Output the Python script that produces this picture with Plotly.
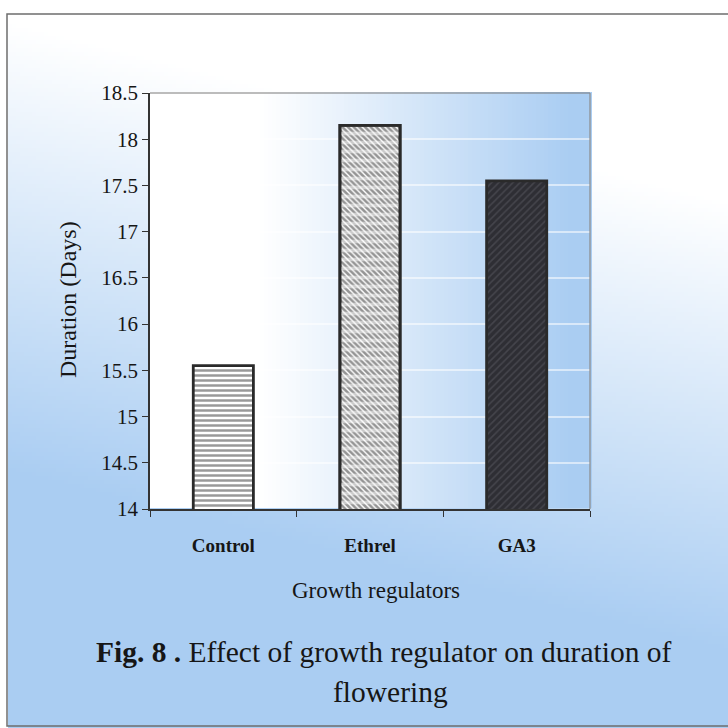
import numpy as np
import plotly.graph_objects as go

# ---- data -------------------------------------------------------------
treatments = ["Control", "Ethrel", "GA3"]
duration_days = [15.55, 18.15, 17.55]
y_tick_values = [14, 14.5, 15, 15.5, 16, 16.5, 17, 17.5, 18, 18.5]

x_title = "Growth regulators"
y_title = "Duration (Days)"
caption_line1 = "<b>Fig. 8 .</b> Effect of growth regulator on duration of"
caption_line2 = "flowering"

# ---- page geometry (pixels) ------------------------------------------
W = H = 728
PL, PR, PT, PB = 150, 590, 93, 509      # plot area box
FRAME_L, FRAME_T = 7, 14                # page frame corner

BLUE = "rgb(170,205,242)"
SERIF = "Liberation Serif"
INK = "#161616"

# ---- background wash: white -> pale blue ------------------------------
step = 4
xs = np.arange(step / 2, W, step)
ys = np.arange(step / 2, H, step)
X, Y = np.meshgrid(xs, ys)
page_t = np.clip((Y - 110) / 450 - (X - 364) / 1800, 0, 1)
plot_t = np.clip((X - 260) / 310, 0, 1)
inside_plot = (X >= PL) & (X <= PR) & (Y >= PT) & (Y <= PB)
wash = np.where(inside_plot, plot_t, page_t)
wash = np.where((X < FRAME_L) | (Y < FRAME_T), 0, wash)

fig = go.Figure()
fig.add_trace(go.Heatmap(
    x=xs, y=ys, z=wash, xaxis="x", yaxis="y",
    colorscale=[[0, "white"], [1, BLUE]], zmin=0, zmax=1,
    showscale=False, hoverinfo="skip",
))

# ---- bars -------------------------------------------------------------
fig.add_trace(go.Bar(
    x=treatments, y=duration_days, xaxis="x2", yaxis="y2",
    width=0.41,
    marker=dict(
        color="white",
        line=dict(color="#2a2a2a", width=2.8),
        pattern=dict(
            shape=["-", "\\", "/"],
            fgcolor=["#333333", "#2a2a2a", "#5c5c64"],
            bgcolor=["white", "white", "#2e2e34"],
            size=[5, 4, 5],
            solidity=[0.5, 0.65, 0.3],
        ),
    ),
    hoverinfo="x+y",
))
# white horizontal bands that break the Ethrel hatching into rows
fig.add_trace(go.Bar(
    x=treatments[1:2], y=duration_days[1:2], xaxis="x2", yaxis="y2",
    width=0.41,
    marker=dict(
        color="rgba(0,0,0,0)",
        line=dict(color="#2a2a2a", width=2.8),
        pattern=dict(shape="-", fgcolor="white", size=9, solidity=0.4),
    ),
    hoverinfo="skip",
))

# ---- shapes: page frame and plot box ---------------------------------
shapes = [
    dict(type="rect", xref="paper", yref="paper",
         x0=FRAME_L / W, x1=1.02, y0=1 - 726 / H, y1=1 - FRAME_T / H,
         line=dict(color="#6e6e6e", width=1.5), layer="above"),
    dict(type="line", xref="paper", yref="paper",
         x0=PL / W, x1=PR / W, y0=1 - PT / H, y1=1 - PT / H,
         line=dict(color="#7a7a7a", width=1.2), layer="above"),
    dict(type="line", xref="paper", yref="paper",
         x0=PR / W, x1=PR / W, y0=1 - PT / H, y1=1 - PB / H,
         line=dict(color="#8a8a8a", width=1.2), layer="above"),
]


def label(text, x, y, size, angle=0):
    return dict(text=text, xref="paper", yref="paper",
                x=x / W, y=1 - y / H, xanchor="center", yanchor="middle",
                textangle=angle, showarrow=False,
                font=dict(family=SERIF, size=size, color=INK))


annotations = [
    label(y_title, 68, 300, 24, angle=-90),
    label(x_title, 376, 590, 23),
    label(caption_line1, 384, 652, 29.5),
    label(caption_line2, 390, 692, 29.5),
]

fig.update_layout(
    width=W, height=H,
    autosize=False,
    margin=dict(l=0, r=0, t=0, b=0, pad=0, autoexpand=False),
    paper_bgcolor="white",
    plot_bgcolor="rgba(0,0,0,0)",
    showlegend=False,
    barmode="overlay",
    shapes=shapes,
    annotations=annotations,
    xaxis=dict(domain=[0, 1], range=[0, W], visible=False,
               fixedrange=True, automargin=False),
    yaxis=dict(domain=[0, 1], range=[H, 0], visible=False,
               fixedrange=True, automargin=False),
    xaxis2=dict(
        domain=[PL / W, PR / W], anchor="y2", type="category",
        categoryorder="array", categoryarray=treatments,
        automargin=False,
        showline=True, linecolor="#333333", linewidth=1.5,
        ticks="outside", tickson="boundaries", ticklen=6,
        tickcolor="#333333", tickwidth=1.3,
        ticklabelstandoff=18,
        tickfont=dict(family=SERIF, size=19, color=INK, weight="bold"),
        showgrid=False, zeroline=False,
    ),
    yaxis2=dict(
        domain=[1 - PB / H, 1 - PT / H], anchor="x2",
        range=[14, 18.5], tickvals=y_tick_values,
        automargin=False,
        showline=True, linecolor="#333333", linewidth=1.5,
        ticks="outside", ticklen=6, tickcolor="#333333", tickwidth=1.3,
        tickfont=dict(family=SERIF, size=21, color=INK),
        showgrid=True, gridcolor="rgba(255,255,255,0.55)", gridwidth=1.5,
        zeroline=False,
    ),
)

fig.write_html("out.html", post_script="document.body.style.margin='0';")
